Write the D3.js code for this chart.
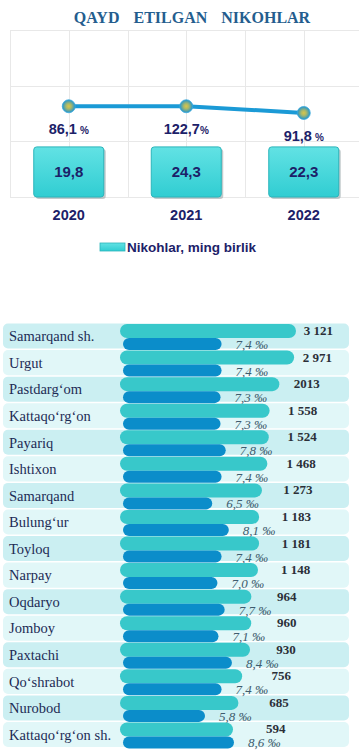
<!DOCTYPE html>
<html><head><meta charset="utf-8">
<script src="https://cdn.jsdelivr.net/npm/d3@7"></script>
<style>html,body{margin:0;padding:0;background:#fff;}svg{display:block;}</style>
</head><body>
<svg id="c" width="359" height="751"></svg>
<script>
// ---- top chart data ----
const years = ["2020", "2021", "2022"];
const marriages = [19.8, 24.3, 22.3];          // ming birlik
const growthIdx = [86.1, 122.7, 91.8];         // %
const lineLevel = [1.63, 1.63, 1.51];          // line height read on the hidden grid (grid units)

// ---- bottom chart data ----
const districts = ["Samarqand sh.", "Urgut", "Pastdarg\u2018om", "Kattaqo\u2018rg\u2018on", "Payariq", "Ishtixon",
  "Samarqand", "Bulung\u2018ur", "Toyloq", "Narpay", "Oqdaryo", "Jomboy", "Paxtachi", "Qo\u2018shrabot", "Nurobod",
  "Kattaqo\u2018rg\u2018on sh."];
const counts = [3121, 2971, 2013, 1558, 1524, 1468, 1273, 1183, 1181, 1148, 964, 960, 930, 756, 685, 594];
const countLabels = ["3 121", "2 971", "2013", "1 558", "1 524", "1 468", "1 273", "1 183", "1 181", "1 148", "964", "960", "930", "756", "685", "594"];
const rates = [7.4, 7.4, 7.3, 7.3, 7.8, 7.4, 6.5, 8.1, 7.4, 7.0, 7.7, 7.1, 8.4, 7.4, 5.8, 8.6]; // ‰

const svg = d3.select("#c");
const navy = "#1c2168";
const fmt1 = v => d3.format(".1f")(v).replace(".", ",");

// defs
const defs = svg.append("defs");
const bg = defs.append("linearGradient").attr("id", "box").attr("x1", 0).attr("y1", 0).attr("x2", 0).attr("y2", 1);
bg.append("stop").attr("offset", "0%").attr("stop-color", "#62e2e4");
bg.append("stop").attr("offset", "100%").attr("stop-color", "#30cdd2");
const rg = defs.append("radialGradient").attr("id", "ball").attr("cx", "50%").attr("cy", "50%").attr("r", "50%");
rg.append("stop").attr("offset", "0%").attr("stop-color", "#d9c64a");
rg.append("stop").attr("offset", "40%").attr("stop-color", "#a9b86a");
rg.append("stop").attr("offset", "100%").attr("stop-color", "#1f93cf");

// ---- title ----
svg.append("text").attr("x", 192).attr("y", 23).attr("text-anchor", "middle")
  .attr("font-family", "Liberation Serif, serif").attr("font-weight", "bold").attr("font-size", 16)
  .attr("fill", "#245d8e").attr("word-spacing", 10)
  .text("QAYD ETILGAN NIKOHLAR");

// ---- top chart ----
const x = d3.scaleBand().domain(years).range([10, 362.5]);
const y = d3.scaleLinear().domain([0, 3]).range([197, 30]);

const grid = svg.append("g").attr("stroke", "#e8e8e8").attr("stroke-width", 1);
grid.selectAll("line.h").data(y.ticks(3)).join("line")
  .attr("x1", 10).attr("x2", 359).attr("y1", d => Math.round(y(d)) + 0.5).attr("y2", d => Math.round(y(d)) + 0.5);
const vx = [];
years.forEach(d => { vx.push(x(d)); vx.push(x(d) + x.bandwidth() / 2); });
grid.selectAll("line.v").data(vx).join("line")
  .attr("x1", d => Math.round(d) + 0.5).attr("x2", d => Math.round(d) + 0.5).attr("y1", y(3)).attr("y2", y(0));

// boxes
const bw = 70;
const boxes = svg.append("g");
years.forEach((yr, i) => {
  const cx = x(yr) + x.bandwidth() / 2;
  boxes.append("rect").attr("x", cx - bw / 2 + 2).attr("y", y(0.9) + 2).attr("width", bw).attr("height", y(0) - y(0.9))
    .attr("rx", 3).attr("fill", "#9aa6aa").attr("opacity", 0.6);
  boxes.append("rect").attr("x", cx - bw / 2).attr("y", y(0.9)).attr("width", bw).attr("height", y(0) - y(0.9))
    .attr("rx", 3).attr("fill", "url(#box)").attr("stroke", "#2bb5bb").attr("stroke-width", 1);
  boxes.append("text").attr("x", cx).attr("y", (y(0.9) + y(0)) / 2 + 5).attr("text-anchor", "middle")
    .attr("font-family", "Liberation Sans, Arial, sans-serif").attr("font-weight", "bold").attr("font-size", 15)
    .attr("fill", navy).text(fmt1(marriages[i]));
  svg.append("text").attr("x", cx).attr("y", 220).attr("text-anchor", "middle")
    .attr("font-family", "Liberation Sans, Arial, sans-serif").attr("font-weight", "bold").attr("font-size", 14.5)
    .attr("fill", navy).text(yr);
});

// line
const pts = years.map((yr, i) => [x(yr) + x.bandwidth() / 2, y(lineLevel[i])]);
svg.append("path").attr("d", d3.line()(pts)).attr("fill", "none").attr("stroke", "#1b9ad6").attr("stroke-width", 4);
svg.selectAll("circle.m").data(pts).join("circle").attr("cx", d => d[0]).attr("cy", d => d[1]).attr("r", 6.5)
  .attr("fill", "url(#ball)").attr("stroke", "#3aa9dc").attr("stroke-width", 0.8);
const pl = svg.append("g");
years.forEach((yr, i) => {
  const t = pl.append("text").attr("x", pts[i][0]).attr("y", pts[i][1] + 28).attr("text-anchor", "middle")
    .attr("font-family", "Liberation Sans, Arial, sans-serif").attr("font-weight", "bold").attr("font-size", 14.5)
    .attr("fill", navy);
  t.append("tspan").text(fmt1(growthIdx[i]));
  t.append("tspan").attr("font-size", 10).attr("dx", i === 1 ? 0 : 3).text("%");
});

// legend
svg.append("rect").attr("x", 100).attr("y", 243).attr("width", 25).attr("height", 8)
  .attr("fill", "url(#box)").attr("stroke", "#2bb5bb").attr("stroke-width", 0.8);
svg.append("text").attr("x", 127).attr("y", 252)
  .attr("font-family", "Liberation Sans, Arial, sans-serif").attr("font-weight", "bold").attr("font-size", 13.5)
  .attr("fill", navy).text("Nikohlar, ming birlik");

// ---- bottom chart ----
const yr = d3.scaleBand().domain(districts).range([323, 748]);
const step = yr.step();
const xCount = d3.scaleLog().domain([594, 3121]).range([233, 296]);
const xRate = d3.scaleLinear().domain([5.8, 8.6]).range([205, 234]);

const bot = svg.append("g");
bot.selectAll("rect.bg").data(districts).join("rect")
  .attr("x", 3).attr("y", d => yr(d) + 0.5).attr("width", 346).attr("height", step - 1.5).attr("rx", 5)
  .attr("fill", (d, i) => i % 2 === 0 ? "#cbeff2" : "#e1f7f8");

bot.selectAll("text.lab").data(districts).join("text")
  .attr("x", 9).attr("y", d => yr(d) + step / 2 + 5)
  .attr("font-family", "Liberation Serif, serif").attr("font-size", 14.5).attr("fill", "#1d2b55")
  .text(d => d);

const lh = 14, dh = 12;
districts.forEach((d, i) => {
  const y0 = yr(d);
  bot.append("rect").attr("x", 120).attr("y", y0 + 1).attr("width", xCount(counts[i]) - 120).attr("height", lh)
    .attr("rx", lh / 2).attr("fill", "#38c8ca");
  bot.append("rect").attr("x", 123).attr("y", y0 + 1 + lh).attr("width", xRate(rates[i]) - 123).attr("height", dh)
    .attr("rx", dh / 2).attr("fill", "#0b8dca");
  bot.append("text").attr("x", 266 + (xCount(counts[i]) - 233) * 0.6).attr("y", y0 + 1 + lh / 2 + 4)
    .attr("font-family", "Liberation Serif, serif").attr("font-weight", "bold").attr("font-size", 13)
    .attr("fill", "#2b2f38").text(countLabels[i]);
  bot.append("text").attr("x", xRate(rates[i]) + 14).attr("y", y0 + 1 + lh + dh / 2 + 5)
    .attr("font-family", "Liberation Serif, serif").attr("font-style", "italic").attr("font-size", 13)
    .attr("fill", "#3e5b6d").text(fmt1(rates[i]) + " \u2030");
});
</script>
</body></html>
